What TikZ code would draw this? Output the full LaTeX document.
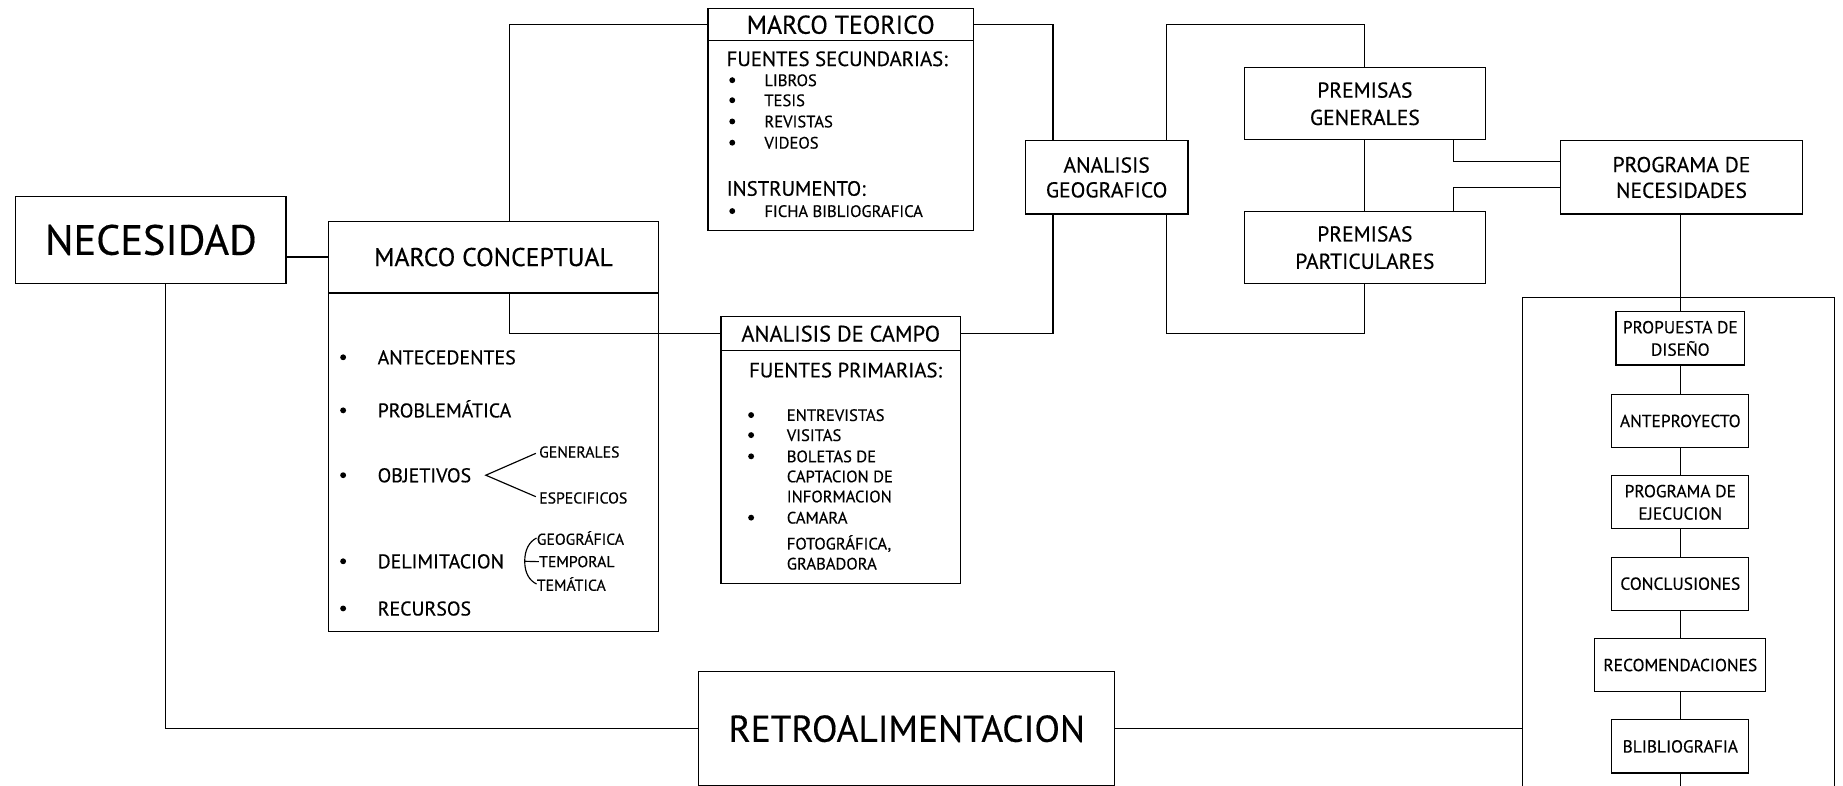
\documentclass[tikz,border=0pt]{standalone}
\usepackage{fontspec}
\setmainfont{PT Sans}[FakeBold=0.4]
\usepackage{tikz}
\newcommand{\pxu}{0.025cm}
\tikzset{%
  mybox/.style={rectangle, draw=black, line width=0.7pt, inner sep=0pt, anchor=north west, align=center},
  minibox/.style={rectangle, draw=black, line width=0.7pt, inner sep=0pt, anchor=north, align=center, minimum height=45*\pxu, font=\fontsize{10.5}{13.5}\selectfont},
  myedge/.style={line width=0.7pt},
  mytext/.style={inner sep=0pt, anchor=base west},
  dot/.style={circle, fill=black, inner sep=0pt, minimum size=5*\pxu}
}

\begin{document}
\begin{tikzpicture}[x=\pxu, y=-\pxu]
  \useasboundingbox (0,0) rectangle (1563,666);
  \clip (0,0) rectangle (1563,666);

% boxes
\node [mybox, minimum width=229*\pxu, minimum height=74*\pxu, font=\fontsize{25.5}{27}\selectfont] (nec) at (13,166) {NECESIDAD};
\node [mybox, minimum width=280*\pxu, minimum height=61*\pxu, font=\fontsize{15.5}{17}\selectfont] (mcH) at (278,187) {MARCO CONCEPTUAL};
\node [mybox, minimum width=280*\pxu, minimum height=287*\pxu] (mcB) at (278,248) {};
\node [mybox, minimum width=225*\pxu, minimum height=27*\pxu, font=\fontsize{15.5}{17}\selectfont] (mtH) at (600,7) {MARCO TEORICO};
\node [mybox, minimum width=225*\pxu, minimum height=161*\pxu] (mtB) at (600,34) {};
\node [mybox, minimum width=203*\pxu, minimum height=29*\pxu, font=\fontsize{13.5}{15}\selectfont] (acH) at (611,268) {ANALISIS DE CAMPO};
\node [mybox, minimum width=203*\pxu, minimum height=197*\pxu] (acB) at (611,297) {};
\node [mybox, minimum width=138*\pxu, minimum height=62*\pxu, font=\fontsize{13}{15}\selectfont] (geo) at (869,119) {ANALISIS\\GEOGRAFICO};
\node [mybox, minimum width=204*\pxu, minimum height=61*\pxu, font=\fontsize{13}{16.5}\selectfont] (pg) at (1055,57) {PREMISAS\\GENERALES};
\node [mybox, minimum width=204*\pxu, minimum height=61*\pxu, font=\fontsize{13}{16.5}\selectfont] (pp) at (1055,179) {PREMISAS\\PARTICULARES};
\node [mybox, minimum width=205*\pxu, minimum height=62*\pxu, font=\fontsize{13}{15.5}\selectfont] (prog) at (1323,119) {PROGRAMA DE\\NECESIDADES};
\node [mybox, minimum width=353*\pxu, minimum height=97*\pxu, font=\fontsize{22.5}{25}\selectfont] (retro) at (592,569) {RETROALIMENTACION};
\node [mybox, minimum width=264*\pxu, minimum height=460*\pxu] (fase) at (1291,252) {};

\foreach \nm/\yy/\ww/\lbl in {prop/264/109/{PROPUESTA DE\\DISEÑO}, ante/334/116/ANTEPROYECTO, ejec/403/116/{PROGRAMA DE\\EJECUCION}, conc/472/116/CONCLUSIONES, reco/541/145/RECOMENDACIONES, bib/610/116/BLIBLIOGRAFIA}
  \node [minibox, minimum width=\ww*\pxu] (\nm) at (1425,\yy) {\lbl};

% connectors
\coordinate (cA) at (140,0);
\coordinate (cB) at (432,0);
\coordinate (cC) at (893,0);
\coordinate (cD) at (989,0);
\coordinate (cE) at (1157,0);
\coordinate (cF) at (1233,137);
\coordinate (cG) at (1233,159);
\coordinate (cH) at (0,700);

\draw [myedge] (mcH.west -| nec.east) -- (mcH.west);
\draw [myedge] (nec.south -| cA) |- (retro.west);
\draw [myedge] (retro.east) -- (retro.east -| fase.west);
\draw [myedge] (mcH.north -| cB) |- (mtH.west);
\draw [myedge] (mcH.south -| cB) |- (acH.west);
\draw [myedge] (mtH.east) -| (geo.north -| cC);
\draw [myedge] (acH.east) -| (geo.south -| cC);
\draw [myedge] (geo.north -| cD) -- (cD |- mtH.east) -| (pg.north -| cE);
\draw [myedge] (geo.south -| cD) -- (cD |- acH.east) -| (pp.south -| cE);
\draw [myedge] (pg) -- (pp);
\draw [myedge] (pg.south -| cF) -- (cF) -- (cF -| prog.west);
\draw [myedge] (pp.north -| cG) -- (cG) -- (cG -| prog.west);
\draw [myedge] (prog.south -| prop.north) -- (prop.north);
\foreach \pa/\pb in {prop/ante, ante/ejec, ejec/conc, conc/reco, reco/bib}
  \draw [myedge] (\pa) -- (\pb);
\draw [myedge] (bib.south) -- (bib.south |- cH);

% marco teorico
\node [mytext, font=\fontsize{12.5}{14}\selectfont] (mt1) at (616,56) {FUENTES SECUNDARIAS:};
\node [mytext, font=\fontsize{12.5}{14}\selectfont] (mt2) at (616,166) {INSTRUMENTO:};
\foreach \yy/\lbl in {68/LIBROS, 85/TESIS, 103/REVISTAS, 121/VIDEOS, 179/FICHA BIBLIOGRAFICA} {
  \node [mytext, font=\fontsize{10}{12}\selectfont] (mtl\yy) at (648,\yy+5) {\lbl};
  \node [dot] (mtd\yy) at (621,\yy) {};
}

% analisis de campo
\node [mytext, font=\fontsize{12.5}{14}\selectfont] (ac1) at (635,320) {FUENTES PRIMARIAS:};
\foreach \yy/\lbl in {352/ENTREVISTAS, 369/VISITAS, 387/BOLETAS DE, 404/CAPTACION DE, 421/INFORMACION, 439/CAMARA, 461/{FOTOGRÁFICA,}, 478/GRABADORA}
  \node [mytext, font=\fontsize{10}{12}\selectfont] (acl\yy) at (667,\yy+5) {\lbl};
\foreach \yy in {352,369,387,439}
  \node [dot] (acd\yy) at (637,\yy) {};

% marco conceptual
\foreach \yy/\lbl in {303/ANTECEDENTES, 348/PROBLEMÁTICA, 403/OBJETIVOS, 476/DELIMITACION, 516/RECURSOS} {
  \node [mytext, font=\fontsize{12}{14}\selectfont] (mc\yy) at (320,\yy+6) {\lbl};
  \node [dot] (mcd\yy) at (291,\yy) {};
}
\node [mytext, font=\fontsize{9.5}{11}\selectfont] (gen) at (457,388) {GENERALES};
\node [mytext, font=\fontsize{9.5}{11}\selectfont] (esp) at (457,427) {ESPECIFICOS};
\coordinate (ov) at (412,403);
\draw [myedge, shorten <=2pt, shorten >=2pt] (gen.west) -- (ov) -- (esp.west);

\node [mytext, font=\fontsize{9.5}{11}\selectfont] (dgeo) at (455,462) {GEOGRÁFICA};
\node [mytext, font=\fontsize{9.5}{11}\selectfont] (dtmp) at (457,481) {TEMPORAL};
\node [mytext, font=\fontsize{9.5}{11}\selectfont] (dtem) at (455,501) {TEMÁTICA};
\coordinate (dv) at (445,476);
\draw [myedge] (dgeo.west) .. controls +(-6,3) and +(0,-10) .. (dv) .. controls +(0,10) and +(-6,-3) .. (dtem.west);
\draw [myedge] (dv) -- (dtmp.west);

\end{tikzpicture}
\end{document}
